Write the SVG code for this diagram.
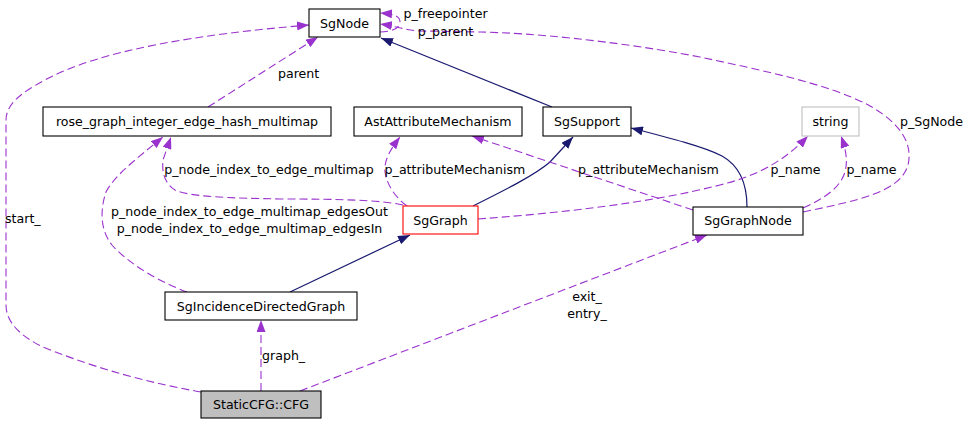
<svg xmlns="http://www.w3.org/2000/svg" width="969" height="424" viewBox="0 0 969 424">
<style>
text{font-family:"DejaVu Sans","Liberation Sans",sans-serif;font-size:12.6px;fill:#000}
.c{text-anchor:middle}
.box{fill:#fff;stroke:#000;stroke-width:1.1}
.use{fill:none;stroke:#9a32cd;stroke-width:1.1;stroke-dasharray:8,4}
.inh{fill:none;stroke:#191970;stroke-width:1.2}
</style>
<defs>
<marker id="ap" viewBox="0 0 12 9" refX="12" refY="4.5" markerWidth="12" markerHeight="9" markerUnits="userSpaceOnUse" orient="auto"><path d="M0,0 L12,4.5 L0,9 z" fill="#9a32cd"/></marker>
<marker id="ab" viewBox="0 0 12 9" refX="12" refY="4.5" markerWidth="12" markerHeight="9" markerUnits="userSpaceOnUse" orient="auto"><path d="M0,0 L12,4.5 L0,9 z" fill="#191970"/></marker>
</defs>
<g id="connectors">
<path class="inh" marker-end="url(#ab)" d="M552,107 L381,38"/>
<path class="inh" marker-end="url(#ab)" d="M473,206 C505,190 535,175 550,162 L573,137"/>
<path class="inh" marker-end="url(#ab)" d="M747,207 C747,185 740,166 722,156 C705,147 670,138 631,128"/>
<path class="inh" marker-end="url(#ab)" d="M290,292 L410,235"/>
<path class="use" marker-end="url(#ap)" d="M201,392 C150,383 100,370 43,347 C20,336 6,322 6,305 L6,120 C6,105 20,93 45,80 C100,50 200,34 309,25"/>
<path class="use" marker-end="url(#ap)" d="M208,107 L318,37"/>
<path class="use" marker-end="url(#ap)" d="M380,32 C392,32 400,28 400,22 C400,16 394,14 380,13"/>
<path class="use" marker-end="url(#ap)" d="M803,212 C860,200 900,192 908,165 C914,140 895,120 870,106 C830,84 760,70 700,57 C610,40 530,33 480,32 L420,31 C405,30 395,26 380,24"/>
<path class="use" marker-end="url(#ap)" d="M403,205 C380,200 340,199 280,199 C230,198 190,197 175,190 C163,182 162,170 163,160 L171,137"/>
<path class="use" marker-end="url(#ap)" d="M187,292 C160,282 130,265 112,245 C100,230 100,210 106,192 C115,175 135,160 163,137"/>
<path class="use" marker-end="url(#ap)" d="M407,206 C395,197 387,185 385,172 C384,160 390,150 400,137"/>
<path class="use" marker-end="url(#ap)" d="M693,210 L472,136"/>
<path class="use" marker-end="url(#ap)" d="M478,219 C560,213 650,203 720,185 C760,175 785,160 808,136"/>
<path class="use" marker-end="url(#ap)" d="M803,208 C825,198 840,188 845,172 C848,160 846,150 841,136"/>
<path class="use" marker-end="url(#ap)" d="M300,391 L707,235"/>
<path class="use" marker-end="url(#ap)" d="M261,391 L261,320"/>
<text x="445.5" y="17.5" class="c">p_freepointer</text>
<text x="445.5" y="36" class="c">p_parent</text>
<text x="278" y="77.5">parent</text>
<text x="5" y="223">start_</text>
<text x="269" y="173.5" class="c">p_node_index_to_edge_multimap</text>
<text x="455" y="173.5" class="c">p_attributeMechanism</text>
<text x="648.5" y="173.5" class="c">p_attributeMechanism</text>
<text x="795.5" y="173.5" class="c">p_name</text>
<text x="871.5" y="173.5" class="c">p_name</text>
<text x="931.5" y="125.5" class="c">p_SgNode</text>
<text x="249.5" y="215.5" class="c">p_node_index_to_edge_multimap_edgesOut</text>
<text x="249.5" y="232.5" class="c">p_node_index_to_edge_multimap_edgesIn</text>
<text x="587" y="300.5" class="c">exit_</text>
<text x="587" y="317.5" class="c">entry_</text>
<text x="262" y="359.5">graph_</text>
</g>
<g id="SgNode"><rect class="box" x="309" y="9" width="71" height="28"/><text x="344.5" y="27.5" class="c">SgNode</text></g>
<g id="rose_graph_integer_edge_hash_multimap"><rect class="box" x="43" y="107" width="288" height="29"/><text x="187" y="126" class="c">rose_graph_integer_edge_hash_multimap</text></g>
<g id="AstAttributeMechanism"><rect class="box" x="354" y="107" width="168" height="29"/><text x="438" y="126" class="c">AstAttributeMechanism</text></g>
<g id="SgSupport"><rect class="box" x="543" y="107" width="88" height="29"/><text x="587" y="126" class="c">SgSupport</text></g>
<g id="string"><rect x="802" y="107" width="57" height="29" fill="#fff" stroke="#bfbfbf" stroke-width="1.1"/><text x="830.5" y="126" class="c">string</text></g>
<g id="SgGraph"><rect x="403" y="206" width="75" height="28" fill="#fff" stroke="#ff0000" stroke-width="1.1"/><text x="440.5" y="224.5" class="c">SgGraph</text></g>
<g id="SgGraphNode"><rect class="box" x="693" y="207" width="110" height="28"/><text x="748" y="225" class="c">SgGraphNode</text></g>
<g id="SgIncidenceDirectedGraph"><rect class="box" x="165" y="292" width="192" height="28"/><text x="261" y="310.5" class="c">SgIncidenceDirectedGraph</text></g>
<g id="StaticCFG_CFG"><rect x="201" y="391" width="120" height="27" fill="#bfbfbf" stroke="#000" stroke-width="1.1"/><text x="261" y="409" class="c">StaticCFG::CFG</text></g>
</svg>
